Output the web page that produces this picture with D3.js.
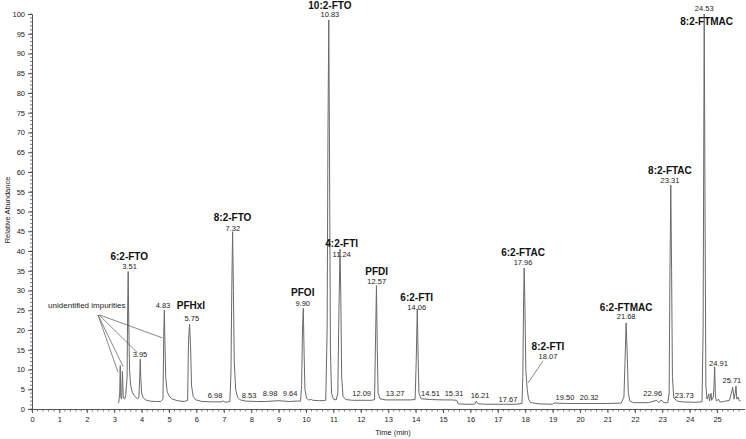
<!DOCTYPE html>
<html><head><meta charset="utf-8">
<script src="https://cdn.jsdelivr.net/npm/d3@7"></script>
<style>
html,body{margin:0;padding:0;background:#fff;}
svg{display:block;font-family:Arial,"Liberation Sans",sans-serif;}
</style></head>
<body><svg id="c" width="746" height="439"></svg>
<script>
// ---- chromatogram trace (time in min, relative abundance in %) ----
const traceTime = [3.15,3.17,3.20,3.22,3.24,3.27,3.30,3.33,3.38,3.42,3.47,3.49,3.51,3.53,3.56,3.60,3.66,3.75,3.85,3.90,3.93,3.95,3.97,4.00,4.06,4.15,4.30,4.50,4.70,4.78,4.81,4.83,4.85,4.88,4.93,5.00,5.10,5.30,5.55,5.68,5.71,5.75,5.79,5.82,5.88,5.98,6.20,6.60,6.90,6.98,7.05,7.22,7.26,7.29,7.32,7.35,7.38,7.43,7.50,7.60,7.80,8.20,8.53,8.98,9.40,9.64,9.80,9.84,9.87,9.90,9.93,9.96,10.02,10.10,10.20,10.25,10.50,10.72,10.77,10.80,10.83,10.86,10.89,10.93,11.00,11.10,11.16,11.20,11.24,11.27,11.30,11.35,11.45,11.70,12.09,12.40,12.50,12.53,12.57,12.60,12.63,12.70,12.90,13.27,13.80,13.98,14.02,14.06,14.09,14.12,14.20,14.51,15.00,15.31,15.50,15.55,15.80,16.15,16.21,16.28,16.60,17.20,17.67,17.88,17.91,17.94,17.96,17.99,18.02,18.07,18.12,18.20,18.50,19.00,19.05,19.50,20.32,21.00,21.50,21.60,21.64,21.68,21.72,21.76,21.82,21.95,22.50,22.80,22.88,22.96,23.05,23.20,23.25,23.28,23.31,23.34,23.37,23.42,23.55,23.73,24.20,24.45,24.49,24.53,24.56,24.59,24.63,24.70,24.72,24.78,24.80,24.86,24.89,24.91,24.94,24.98,25.05,25.10,25.20,25.30,25.45,25.52,25.57,25.62,25.66,25.69,25.72,25.76,25.80,25.86];
const traceAbundance = [1.5,1.8,4,11,3,2.5,9.5,3,2.5,3.5,8,25,34.8,22,10,6,4.2,3.2,2.6,2.8,8,12.6,8,4,2.8,2.3,2.0,1.9,1.9,2.5,20,25,17,8,4.5,3.3,2.6,2.1,1.9,2.2,17,21.5,15,6,3.2,2.3,1.9,1.8,1.8,2.0,1.7,1.9,9,30,44.9,30,12,5,3,2.3,2.0,1.9,1.9,2.1,1.9,2.0,2.0,6,20,25.5,14,5,2.7,2.3,2.4,2.2,2.1,2.2,20,70,98.5,60,15,4,2.5,2.3,4,25,40.5,28,8,3.2,2.4,2.2,2.2,2.2,2.4,15,31.2,15,4,2.6,2.3,2.3,2.3,2.4,12,25.3,13,4,2.6,2.4,2.3,2.3,2.2,1.3,1.2,1.2,2.0,1.3,1.2,1.2,1.2,1.4,8,28,35.7,25,10,5,2.5,1.6,1.3,1.2,1.5,1.4,1.4,1.4,1.5,3,12,21.8,14,4,2,1.6,1.6,2.2,1.6,2.3,1.6,1.6,4,35,56.7,35,8,2.8,2.0,1.8,1.7,1.8,20,100,50,6,2.5,3.8,2,4,2.2,3,6,10.7,3,2,2.5,1.8,1.8,2.0,2.2,4,5.5,2.5,4,5.8,2.5,3,2.2,2];

// ---- axis ticks ----
const xTicks = [0,1,2,3,4,5,6,7,8,9,10,11,12,13,14,15,16,17,18,19,20,21,22,23,24,25];
const yTicks = [0,5,10,15,20,25,30,35,40,45,50,55,60,65,70,75,80,85,90,95,100];

// ---- retention time labels: text, anchor time, anchor abundance ----
const rtText = ["3.51","3.95","4.83","5.75","6.98","7.32","8.53","8.98","9.64","9.90","10.83","11.24","12.09","12.57","13.27","14.06","14.51","15.31","16.21","17.67","17.96","18.07","19.50","20.32","21.68","22.96","23.31","23.73","24.53","24.91","25.71"];
const rtTime = [3.56,3.94,4.78,5.83,6.68,7.33,7.92,8.69,9.42,9.88,10.87,11.30,12.03,12.58,13.25,14.04,14.54,15.40,16.35,17.37,17.92,18.83,19.45,20.33,21.68,22.65,23.28,23.80,24.53,25.05,25.54];
const rtLevel = [36.2,13.7,26.1,22.8,3.3,45.6,3.3,3.8,3.8,26.8,99.9,39.2,3.8,32.4,3.8,25.6,3.8,3.8,3.5,2.5,37.2,13.2,3.0,3.0,23.3,3.8,57.9,3.5,101.5,11.6,7.3];

// ---- compound names ----
const compoundName = ["6:2-FTO","PFHxI","8:2-FTO","PFOI","10:2-FTO","4:2-FTI","PFDI","6:2-FTI","6:2-FTAC","8:2-FTI","6:2-FTMAC","8:2-FTAC","8:2-FTMAC"];
const compoundTime = [3.55,5.80,7.32,9.88,10.87,11.30,12.58,14.04,17.92,18.83,21.68,23.28,24.62];
const compoundLevel = [38.5,26.1,48.6,29.4,102.2,41.8,34.9,28.2,39.7,15.8,25.8,60.5,98.0];

// ---- leader lines ----
const leaderFromTime = [2.41,2.41,2.45,2.47,18.65];
const leaderFromLevel = [23.8,23.8,23.8,23.8,12.2];
const leaderToTime = [3.14,3.32,3.84,4.76,18.10];
const leaderToLevel = [9.3,10.8,14.3,18.0,6.6];

const svg = d3.select("#c");
const x = d3.scaleLinear().domain([0,26]).range([32,744.5]);
const y = d3.scaleLinear().domain([0,100]).range([409,14]);
const axisColor = "#555";
const textColor = "#222";

// Y axis
const yAxis = svg.append("g").attr("transform","translate(32,0)")
  .call(d3.axisLeft(y).tickValues(yTicks).tickSize(4).tickPadding(3));
yAxis.select(".domain").attr("stroke",axisColor);
yAxis.selectAll(".tick line").attr("stroke",axisColor);
yAxis.selectAll("text").attr("font-size","7.5px").attr("fill",textColor).attr("font-family","Arial, Liberation Sans");
svg.append("g").selectAll("line").data(d3.range(0,101,1)).join("line")
  .attr("x1",30).attr("x2",32).attr("y1",d=>y(d)).attr("y2",d=>y(d))
  .attr("stroke",axisColor).attr("stroke-width",0.8);

// X axis
const xAxis = svg.append("g").attr("transform","translate(0,409)")
  .call(d3.axisBottom(x).tickValues(xTicks).tickSize(4).tickPadding(4).tickSizeOuter(0));
xAxis.select(".domain").attr("stroke",axisColor);
xAxis.selectAll(".tick line").attr("stroke",axisColor);
xAxis.selectAll("text").attr("font-size","7.5px").attr("fill",textColor).attr("font-family","Arial, Liberation Sans");
svg.append("g").selectAll("line").data(d3.range(0,130,1).map(i=>i*0.2)).join("line")
  .attr("x1",d=>x(d)).attr("x2",d=>x(d)).attr("y1",409).attr("y2",411.5)
  .attr("stroke",axisColor).attr("stroke-width",0.8);

// axis titles
svg.append("text").attr("x",393).attr("y",435).attr("text-anchor","middle")
  .attr("font-size","7.5px").attr("fill",textColor).text("Time (min)");
svg.append("text").attr("transform","translate(10,210) rotate(-90)").attr("text-anchor","middle")
  .attr("font-size","7.5px").attr("fill",textColor).text("Relative Abundance");

// trace
const pts = traceTime.map((t,i)=>[t,traceAbundance[i]]);
svg.append("path").datum(pts)
  .attr("d", d3.line().x(d=>x(d[0])).y(d=>y(d[1])))
  .attr("fill","none").attr("stroke","#6a6a6a").attr("stroke-width",1).attr("stroke-linejoin","round");

// leader lines
svg.append("g").selectAll("line").data(leaderFromTime).join("line")
  .attr("x1",(d,i)=>x(leaderFromTime[i])).attr("y1",(d,i)=>y(leaderFromLevel[i]))
  .attr("x2",(d,i)=>x(leaderToTime[i])).attr("y2",(d,i)=>y(leaderToLevel[i]))
  .attr("stroke","#555").attr("stroke-width",0.7);

// impurity text
svg.append("text").attr("x",x(2.0)).attr("y",y(26.3)).attr("text-anchor","middle")
  .attr("dominant-baseline","central").attr("font-size","8px").attr("fill",textColor).text("unidentified impurities");

// RT labels
svg.append("g").selectAll("text").data(rtText).join("text")
  .attr("x",(d,i)=>x(rtTime[i])).attr("y",(d,i)=>y(rtLevel[i]))
  .attr("text-anchor","middle").attr("dominant-baseline","central")
  .attr("font-size","7.5px").attr("fill",textColor).text(d=>d);

// compound names
svg.append("g").selectAll("text").data(compoundName).join("text")
  .attr("x",(d,i)=>x(compoundTime[i])).attr("y",(d,i)=>y(compoundLevel[i]))
  .attr("text-anchor","middle").attr("dominant-baseline","central")
  .attr("font-size","10px").attr("font-weight","bold").attr("fill","#111").text(d=>d);
</script></body></html>
